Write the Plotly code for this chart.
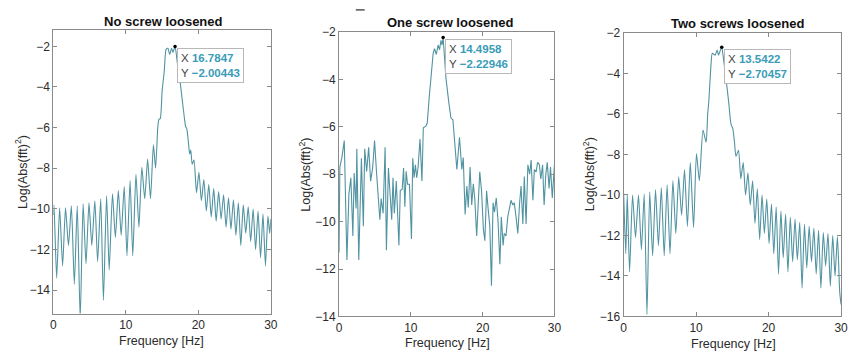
import plotly.graph_objects as go

# ---------------- data ----------------
freq_no = [0.0, 0.08, 0.45, 0.86, 1.27, 1.67, 2.08, 2.48, 2.89, 3.29, 3.7, 4.1, 4.5, 4.91, 5.3, 5.72,
           6.1, 6.53, 6.9, 7.34, 7.7, 8.15, 8.55, 8.96, 9.35, 9.77, 10.15, 10.58, 10.95, 11.39, 11.8,
           12.2, 12.6, 13.0, 13.4, 13.8, 14.1, 14.4, 14.55, 14.75, 15.0, 15.3, 15.55, 15.8, 16.05, 16.3,
           16.5, 16.7847, 17.1, 17.4, 17.8, 18.1, 18.25, 18.4, 18.6, 18.8, 18.95, 19.15, 19.4, 19.74,
           20.08, 20.42, 20.76, 21.1, 21.44, 21.78, 22.12, 22.46, 22.8, 23.14, 23.48, 23.82, 24.16, 24.5,
           24.84, 25.18, 25.52, 25.86, 26.2, 26.54, 26.88, 27.22, 27.56, 27.9, 28.24, 28.58, 28.92, 29.26,
           29.6, 29.85, 30.0]
logp_no = [-10.3, -9.8, -13.4, -9.95, -12.8, -9.95, -11.8, -9.85, -13.7, -9.85, -15.4, -9.75, -12.7, -9.7,
           -11.8, -9.6, -12.6, -9.5, -14.5, -9.35, -13.0, -9.25, -11.4, -9.1, -11.3, -8.9, -12.3, -8.6,
           -12.3, -8.3, -10.9, -7.95, -9.5, -7.55, -9.5, -6.85, -8.0, -6.0, -5.6, -5.55, -4.2, -3.2, -2.15,
           -2.1, -2.4, -2.1, -2.3, -2.00443, -2.8, -3.5, -4.7, -5.6, -5.95, -6.05, -6.6, -7.3, -7.1, -7.8,
           -7.6, -9.2, -8.2, -9.6, -8.55, -10.1, -8.8, -10.4, -9.0, -10.6, -9.15, -10.5, -9.3, -10.9, -9.45,
           -11.0, -9.55, -11.3, -9.7, -11.8, -9.8, -11.2, -9.9, -11.6, -10.0, -12.0, -10.1, -12.4, -10.25,
           -12.8, -10.35, -11.2, -10.5]

freq_one = [0.0, 0.12, 0.4, 0.73, 1.1, 1.38, 1.65, 1.93, 2.11, 2.38, 2.48, 2.75, 3.12, 3.39, 3.58, 3.85,
            4.13, 4.4, 4.68, 4.95, 5.23, 5.41, 5.69, 5.87, 6.14, 6.42, 6.6, 6.88, 7.06, 7.34, 7.52, 7.7,
            7.98, 8.16, 8.34, 8.53, 8.8, 8.99, 9.17, 9.35, 9.54, 9.81, 10.09, 10.27, 10.45, 10.64, 10.82,
            11.0, 11.28, 11.55, 11.74, 12.1, 12.29, 12.56, 12.84, 13.11, 13.3, 13.55, 13.8, 14.0, 14.2,
            14.35, 14.4958, 14.9, 15.3, 15.59, 15.86, 16.1, 16.41, 16.78, 17.1, 17.3, 17.56, 17.8, 18.0,
            18.25, 18.48, 18.7, 18.9, 19.17, 19.4, 19.6, 19.85, 20.1, 20.31, 20.55, 20.75, 21.0, 21.23,
            21.45, 21.65, 21.9, 22.15, 22.4, 22.6, 22.85, 23.0, 23.25, 23.5, 23.75, 23.95, 24.2, 24.4,
            24.65, 24.9, 25.15, 25.35, 25.6, 25.8, 26.05, 26.3, 26.55, 26.75, 27.0, 27.2, 27.45, 27.65,
            27.9, 28.1, 28.35, 28.56, 28.8, 29.0, 29.25, 29.45, 29.7, 30.0]
logp_one = [-11.3, -7.7, -7.3, -6.58, -11.62, -8.83, -8.15, -10.6, -7.95, -9.44, -6.93, -11.62, -7.33,
            -10.19, -6.93, -7.88, -6.86, -8.29, -7.74, -6.58, -7.95, -8.69, -9.92, -9.03, -9.65, -6.86,
            -11.21, -7.74, -8.56, -9.92, -8.15, -9.65, -8.29, -9.44, -11.0, -8.69, -8.63, -7.74, -9.37,
            -7.88, -8.42, -8.42, -10.73, -7.33, -8.15, -7.6, -8.15, -7.74, -6.52, -8.29, -6.04, -5.97,
            -5.84, -4.75, -3.66, -2.9, -2.7, -2.95, -2.55, -2.75, -2.35, -2.55, -2.22946, -3.97, -5.0,
            -5.63, -5.7, -6.6, -7.8, -6.44, -7.8, -7.3, -9.7, -8.5, -9.4, -7.7, -9.3, -8.4, -9.0, -10.6,
            -9.0, -7.9, -8.7, -10.3, -10.8, -8.7, -9.4, -10.2, -12.7, -9.2, -9.6, -9.0, -10.0, -11.8,
            -9.8, -11.0, -10.5, -10.6, -9.8, -9.3, -9.1, -9.3, -9.2, -9.8, -10.5, -9.2, -8.5, -10.1, -8.1,
            -10.1, -7.6, -8.0, -7.4, -9.1, -7.8, -7.9, -7.5, -7.6, -8.2, -7.6, -9.3, -8.0, -7.5, -8.6,
            -7.7, -9.0, -7.6]

freq_two = [0.0, 0.3, 0.5, 0.82, 1.23, 1.64, 2.05, 2.45, 2.84, 3.22, 3.6, 4.0, 4.4, 4.8, 5.2, 5.6, 6.0,
            6.4, 6.8, 7.2, 7.6, 8.0, 8.4, 8.8, 9.2, 9.65, 10.05, 10.45, 10.95, 11.38, 11.6, 11.75, 11.9,
            12.05, 12.23, 12.45, 12.64, 12.9, 13.1, 13.35, 13.5422, 13.75, 14.0, 14.3, 14.55, 14.7, 14.85,
            15.05, 15.3, 15.5, 15.85, 16.17, 16.5, 16.82, 17.15, 17.47, 17.8, 18.12, 18.45, 18.77, 19.1,
            19.42, 19.75, 20.07, 20.4, 20.72, 21.05, 21.37, 21.7, 22.02, 22.35, 22.67, 23.0, 23.32, 23.65,
            23.97, 24.3, 24.62, 24.95, 25.27, 25.6, 25.92, 26.25, 26.57, 26.9, 27.22, 27.55, 27.87, 28.2,
            28.52, 28.85, 29.17, 29.5, 29.82, 30.0]
logp_two = [-9.9, -12.9, -9.95, -13.8, -10.0, -12.1, -10.0, -12.7, -9.95, -15.9, -9.85, -13.0, -9.75,
            -12.5, -9.65, -13.0, -9.5, -12.9, -9.3, -11.9, -9.1, -11.0, -8.75, -11.55, -8.4, -11.6, -7.95,
            -9.3, -6.8, -7.4, -6.0, -5.4, -4.5, -3.6, -3.0, -3.05, -3.1, -2.85, -3.1, -2.85, -2.70457,
            -3.2, -3.9, -4.8, -5.6, -6.2, -6.55, -6.7, -7.4, -8.1, -7.8, -9.2, -8.4, -10.0, -8.9, -10.5,
            -9.3, -11.4, -9.7, -12.2, -10.0, -11.9, -10.2, -12.4, -10.45, -12.9, -10.6, -13.9, -10.8,
            -13.1, -10.95, -13.8, -11.1, -13.3, -11.2, -13.2, -11.35, -14.6, -11.45, -13.6, -11.55, -13.3,
            -11.65, -13.9, -11.75, -14.6, -11.85, -13.5, -11.9, -14.5, -12.0, -14.0, -12.05, -14.8, -15.4]

panel_titles = ["No screw loosened", "One screw loosened", "Two screws loosened"]
x_ticks = [0, 10, 20, 30]
y_ticks = [[-2, -4, -6, -8, -10, -12, -14],
           [-2, -4, -6, -8, -10, -12, -14],
           [-2, -4, -6, -8, -10, -12, -14, -16]]
x_label = "Frequency [Hz]"
y_label = "Log(Abs(fft)<sup>2</sup>)"

# ---------------- style / layout ----------------
W, H = 852, 360
LINE = "#5093a1"
TIP = "#3a9cb8"
AX = "#8a8a8a"
TXT = "#2b2b2b"
FONT = "Liberation Sans, Arial, sans-serif"

# pixel boxes: (left, right, top, bottom)
boxes = [(51, 271, 24, 319), (340, 558, 26, 322), (628, 848, 27, 322)]
y_ranges = [[-15.15, -1.2], [-14, -2], [-16, -2]]
shapes_line = ["spline", "linear", "spline"]
title_pos = [(162, 15), (452, 16), (743, 17)]
xlab_pos = [(160, 348), (450, 350), (739, 351)]
ylab_pos = [(19, 172), (306, 174), (593, 174)]

series = [(freq_no, logp_no), (freq_one, logp_one), (freq_two, logp_two)]

fig = go.Figure()
annotations = []
layout = dict(
    width=W, height=H,
    margin=dict(l=0, r=0, t=0, b=0),
    paper_bgcolor="white", plot_bgcolor="white",
    showlegend=False,
    font=dict(family=FONT, color=TXT, size=12),
)


def fmt(v):
    return f"{v:.6g}".replace("-", "\u2212")


for i, (fx, fy) in enumerate(series):
    n = "" if i == 0 else str(i + 1)
    l, r, t, b = boxes[i]
    layout["xaxis" + n] = dict(
        domain=[l / W, r / W], anchor="y" + n, range=[0, 30],
        tickvals=x_ticks, ticks="inside", ticklen=4, tickcolor=AX,
        showline=True, linecolor=AX, linewidth=1, mirror="ticks",
        showgrid=False, zeroline=False, tickfont=dict(size=12, color=TXT),
    )
    layout["yaxis" + n] = dict(
        domain=[1 - b / H, 1 - t / H], anchor="x" + n, range=y_ranges[i],
        tickvals=y_ticks[i], ticks="inside", ticklen=4, tickcolor=AX,
        showline=True, linecolor=AX, linewidth=1, mirror="ticks",
        showgrid=False, zeroline=False, tickfont=dict(size=12, color=TXT),
    )
    fig.add_trace(go.Scatter(
        x=fx, y=fy, mode="lines", xaxis="x" + n, yaxis="y" + n,
        line=dict(color=LINE, width=1.1, shape=shapes_line[i], smoothing=0.6),
        hoverinfo="skip",
    ))
    k = max(range(len(fy)), key=lambda j: fy[j])
    px, py = fx[k], fy[k]
    fig.add_trace(go.Scatter(
        x=[px], y=[py], mode="markers", xaxis="x" + n, yaxis="y" + n,
        marker=dict(color="black", size=3.5), hoverinfo="skip",
    ))
    annotations.append(dict(
        x=px, y=py, xref="x" + n, yref="y" + n, xanchor="left", yanchor="top",
        xshift=2, yshift=-2, showarrow=False, align="left",
        text=(f"X <b><span style='color:{TIP}'>{fmt(px)}</span></b><br>"
              f"Y <b><span style='color:{TIP}'>{fmt(py)}</span></b>"),
        font=dict(size=11.5, color="#444444", family=FONT),
        bgcolor="white", bordercolor="#b8b8b8", borderwidth=1, borderpad=3,
    ))
    tx, ty = title_pos[i]
    annotations.append(dict(
        x=tx / W, y=1 - ty / H, xref="paper", yref="paper", showarrow=False,
        xanchor="center", yanchor="middle", text=f"<b>{panel_titles[i]}</b>",
        font=dict(size=13, color="#111111", family=FONT),
    ))
    lx, ly = xlab_pos[i]
    annotations.append(dict(
        x=lx / W, y=1 - ly / H, xref="paper", yref="paper", showarrow=False,
        xanchor="center", yanchor="middle", text=x_label,
        font=dict(size=12.5, color=TXT, family=FONT),
    ))
    yx, yy = ylab_pos[i]
    annotations.append(dict(
        x=yx / W, y=1 - yy / H, xref="paper", yref="paper", showarrow=False,
        xanchor="center", yanchor="middle", text=y_label, textangle=-90,
        font=dict(size=12.5, color=TXT, family=FONT),
    ))

layout["annotations"] = annotations
layout["shapes"] = [dict(type="line", xref="paper", yref="paper",
                         x0=357 / W, x1=366 / W, y0=1 - 3 / H, y1=1 - 3 / H,
                         line=dict(color="#555555", width=1.5))]
fig.update_layout(**layout)
fig.write_html("out.html")
